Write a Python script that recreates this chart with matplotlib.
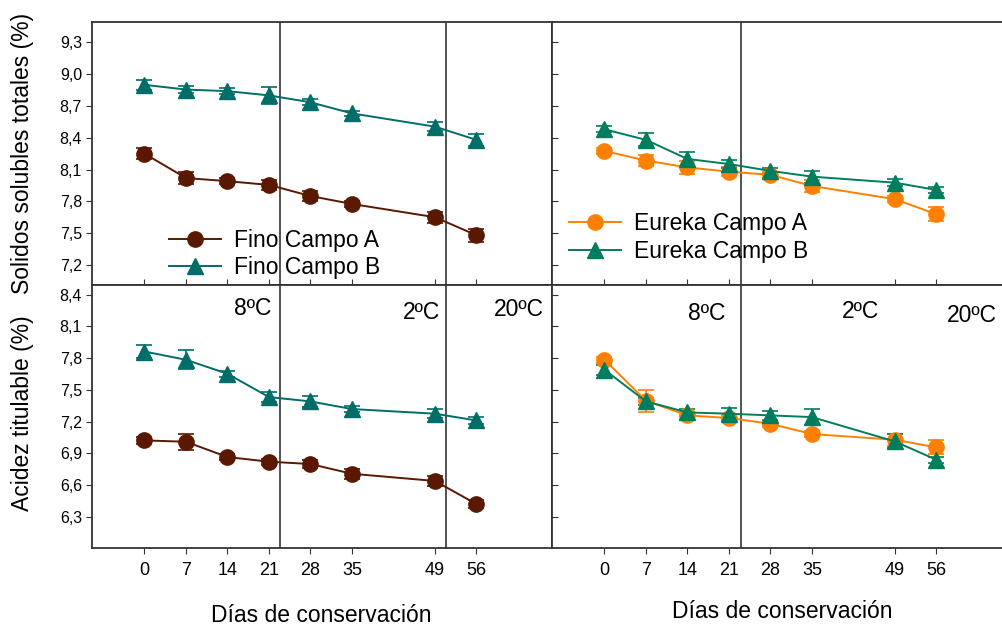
import matplotlib
matplotlib.use("Agg")
import matplotlib.pyplot as plt
from matplotlib.ticker import FuncFormatter

plt.rcParams['font.family'] = ['Liberation Sans', 'DejaVu Sans']

# ---------------- data ----------------
days = [0, 7, 14, 21, 28, 35, 49, 56]

# Solidos solubles totales (%)
sst_fino_a = [8.25, 8.02, 7.99, 7.955, 7.85, 7.775, 7.65, 7.48]
sst_fino_a_err = [0.05, 0.057, 0.03, 0.05, 0.05, 0.03, 0.05, 0.063]
sst_fino_b = [8.90, 8.855, 8.84, 8.80, 8.735, 8.63, 8.505, 8.38]
sst_fino_b_err = [0.05, 0.03, 0.03, 0.08, 0.03, 0.025, 0.04, 0.06]
sst_eur_a = [8.275, 8.185, 8.12, 8.08, 8.05, 7.945, 7.82, 7.678]
sst_eur_a_err = [0.03, 0.05, 0.058, 0.04, 0.03, 0.055, 0.03, 0.068]
sst_eur_b = [8.48, 8.38, 8.20, 8.152, 8.087, 8.033, 7.976, 7.907]
sst_eur_b_err = [0.03, 0.061, 0.063, 0.04, 0.03, 0.057, 0.03, 0.03]

# Acidez titulable (%)
at_fino_a = [7.023, 7.01, 6.866, 6.822, 6.80, 6.708, 6.64, 6.422]
at_fino_a_err = [0.03, 0.075, 0.03, 0.03, 0.04, 0.045, 0.045, 0.04]
at_fino_b = [7.862, 7.784, 7.652, 7.432, 7.391, 7.319, 7.275, 7.211]
at_fino_b_err = [0.057, 0.091, 0.03, 0.047, 0.053, 0.03, 0.045, 0.03]
at_eur_a = [7.784, 7.397, 7.259, 7.234, 7.18, 7.083, 7.029, 6.957]
at_eur_a_err = [0.03, 0.105, 0.03, 0.03, 0.03, 0.03, 0.055, 0.066]
at_eur_b = [7.69, 7.391, 7.287, 7.275, 7.259, 7.243, 7.013, 6.84]
at_eur_b_err = [0.045, 0.03, 0.03, 0.052, 0.04, 0.079, 0.066, 0.03]

sst_ticks = [7.2, 7.5, 7.8, 8.1, 8.4, 8.7, 9.0, 9.3]
at_ticks = [6.3, 6.6, 6.9, 7.2, 7.5, 7.8, 8.1, 8.4]

labels_fino = ['Fino Campo A', 'Fino Campo B']
labels_eur = ['Eureka Campo A', 'Eureka Campo B']
temp_labels = ['8ºC', '2ºC', '20ºC']
xlabel = 'Días de conservación'
ylabel_top = 'Solidos solubles totales (%)'
ylabel_bot = 'Acidez titulable (%)'

# ---------------- style ----------------
c_fino_a = '#5a1800'
c_fino_b = '#006d68'
c_eur_a = '#ff8000'
c_eur_b = '#007d5e'
spine_c = '#333333'

fig = plt.figure(figsize=(10.03, 6.25), dpi=100)

W = 460 / 1003
H = 262.7 / 625
xl_left = 91.7 / 1003
xl_right = 551.7 / 1003
yb_top = (625 - 285) / 625
yb_bot = (625 - 547.7) / 625

ax_tl = fig.add_axes([xl_left, yb_top, W, H])
ax_tr = fig.add_axes([xl_right, yb_top, W, H])
ax_bl = fig.add_axes([xl_left, yb_bot, W, H])
ax_br = fig.add_axes([xl_right, yb_bot, W, H])

comma = FuncFormatter(lambda v, p: f'{v:.1f}'.replace('.', ','))


def series(ax, y, err, color, marker, label):
    ax.errorbar(days, y, yerr=err, fmt='none', ecolor=color, elinewidth=1.2,
                capsize=6, capthick=1.2, zorder=3)
    ln, = ax.plot(days, y, color=color, lw=1.4, marker=marker, ms=11,
                  markeredgecolor=color, markerfacecolor=color, label=label,
                  zorder=4)
    return ln


for ax in (ax_tl, ax_tr, ax_bl, ax_br):
    ax.set_xlim(-8.9, 68.7)
    ax.set_xticks(days)
    for s in ax.spines.values():
        s.set_color(spine_c)
        s.set_linewidth(1.3)

for ax in (ax_tr, ax_br):
    ax.spines['right'].set_visible(False)

for ax in (ax_tl, ax_tr):
    ax.set_ylim(7.01, 9.49)
    ax.set_yticks(sst_ticks)
    ax.tick_params(axis='x', direction='in', length=4, labelbottom=False,
                   color=spine_c)
for ax in (ax_bl, ax_br):
    ax.set_ylim(6.01, 8.49)
    ax.set_yticks(at_ticks)
    ax.tick_params(axis='x', direction='out', length=4, labelsize=13, pad=6,
                   color=spine_c)

for ax in (ax_tl, ax_bl):
    ax.yaxis.set_major_formatter(comma)
    ax.tick_params(axis='y', direction='out', length=4, labelsize=11.5, pad=3,
                   color=spine_c)
for ax in (ax_tr, ax_br):
    ax.tick_params(axis='y', direction='in', length=4, labelleft=False,
                   color=spine_c)

# vertical period lines
for ax in (ax_tl, ax_bl):
    for xv in (22.9, 50.8):
        ax.axvline(xv, color='#444444', lw=1.3, zorder=2)
for ax in (ax_tr, ax_br):
    ax.axvline(23.0, color='#444444', lw=1.3, zorder=2)

# top-left
h1 = series(ax_tl, sst_fino_a, sst_fino_a_err, c_fino_a, 'o', labels_fino[0])
h2 = series(ax_tl, sst_fino_b, sst_fino_b_err, c_fino_b, '^', labels_fino[1])
ax_tl.legend(handles=[h1, h2], loc='center left', bbox_to_anchor=(0.168, 0.118),
             frameon=False, fontsize=16.5, handlelength=2.26, handletextpad=0.56,
             labelspacing=0.2, borderpad=0, borderaxespad=0, numpoints=1)

# top-right
h3 = series(ax_tr, sst_eur_a, sst_eur_a_err, c_eur_a, 'o', labels_eur[0])
h4 = series(ax_tr, sst_eur_b, sst_eur_b_err, c_eur_b, '^', labels_eur[1])
ax_tr.legend(handles=[h3, h4], loc='center left', bbox_to_anchor=(0.0376, 0.181),
             frameon=False, fontsize=16.5, handlelength=2.26, handletextpad=0.56,
             labelspacing=0.2, borderpad=0, borderaxespad=0, numpoints=1)

# bottom-left
series(ax_bl, at_fino_a, at_fino_a_err, c_fino_a, 'o', labels_fino[0])
series(ax_bl, at_fino_b, at_fino_b_err, c_fino_b, '^', labels_fino[1])
# bottom-right
series(ax_br, at_eur_a, at_eur_a_err, c_eur_a, 'o', labels_eur[0])
series(ax_br, at_eur_b, at_eur_b_err, c_eur_b, '^', labels_eur[1])

# temperature labels
for (x, y), t in zip([(18.3, 8.265), (46.7, 8.235), (63.2, 8.255)], temp_labels):
    ax_bl.text(x, y, t, fontsize=16.5, ha='center', va='center')
for (x, y), t in zip([(17.3, 8.22), (43.2, 8.24), (62.0, 8.205)], temp_labels):
    ax_br.text(x, y, t, fontsize=16.5, ha='center', va='center')

# axis labels
fig.text(321 / 1003, 1 - 622 / 625, xlabel, fontsize=16.5, ha='center', va='baseline')
fig.text(782 / 1003, 1 - 618 / 625, xlabel, fontsize=16.5, ha='center', va='baseline')
fig.text(23 / 1003, 1 - 153 / 625, ylabel_top, fontsize=16.5, rotation=90,
         ha='center', va='center')
fig.text(23 / 1003, 1 - 413 / 625, ylabel_bot, fontsize=16.5, rotation=90,
         ha='center', va='center')

fig.savefig('out.png', dpi=100)
